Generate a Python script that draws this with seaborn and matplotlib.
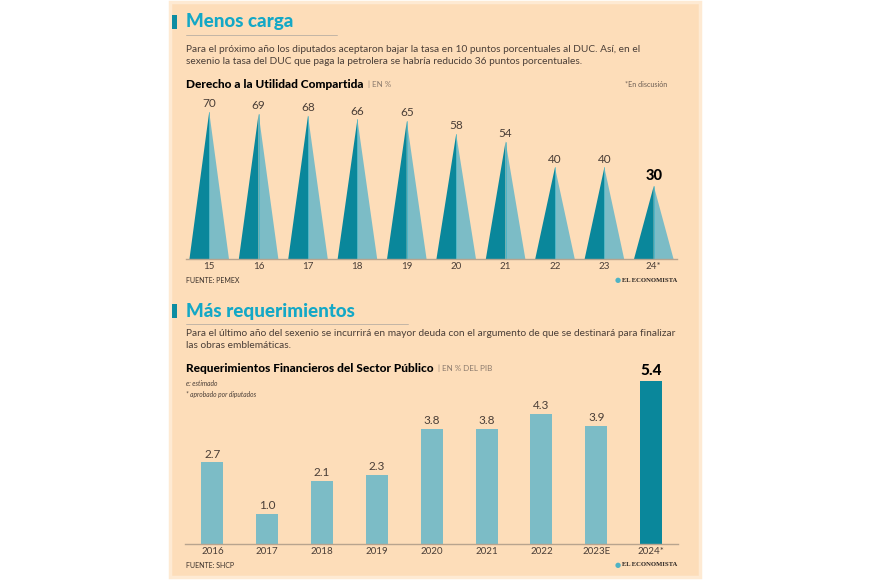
import pandas as pd
import matplotlib
matplotlib.use('Agg')
import matplotlib.pyplot as plt
import seaborn as sns
from matplotlib.patches import Rectangle
from matplotlib.lines import Line2D
from matplotlib.text import Annotation

# Derecho a la Utilidad Compartida (%)
duc_years = ['15', '16', '17', '18', '19', '20', '21', '22', '23', '24*']
duc_rates = [70, 69, 68, 66, 65, 58, 54, 40, 40, 30]

# Requerimientos Financieros del Sector Publico (% del PIB)
rfsp_years = ['2016', '2017', '2018', '2019', '2020', '2021', '2022', '2023E', '2024*']
rfsp_pib = [2.7, 1.0, 2.1, 2.3, 3.8, 3.8, 4.3, 3.9, 5.4]

PEACH = '#FDDDB9'
PEACH_EDGE = '#FEEAD3'
DARK_TEAL = '#0A879B'
LIGHT_TEAL = '#7CBCC6'
CYAN = '#14A8C6'
TEXT = '#4A3E37'
RULE = '#B8A48E'

sns.set_theme(style='white')
plt.rcParams['font.family'] = ['Lato', 'DejaVu Sans']

W, H = 870, 580
fig = plt.figure(figsize=(W / 100, H / 100), dpi=100)
fig.patch.set_facecolor('white')


def fx(x):
    return x / W


def fy(y):
    return 1 - y / H


def ftext(x, y, s, **kw):
    kw.setdefault('color', TEXT)
    kw.setdefault('va', 'center')
    return fig.text(fx(x), fy(y), s, **kw)


def after(anchor, s, side=1, gap=3, **kw):
    # text glued to the right (side=1) or left (side=0) of another text
    kw.setdefault('va', 'center')
    kw.setdefault('ha', 'left' if side else 'right')
    a = Annotation(s, xy=(side, 0.5), xycoords=anchor,
                   xytext=(gap if side else -gap, 0), textcoords='offset points',
                   annotation_clip=False, **kw)
    fig.add_artist(a)
    return a


def header(y, title, rule_end):
    fig.add_artist(Rectangle((fx(172), fy(y + 7)), 5 / W, 14 / H,
                             facecolor='#0D8DA2', lw=0))
    ftext(186, y, title, color=CYAN, fontsize=13.5, fontweight='black')
    fig.add_artist(Line2D([fx(186), fx(rule_end)], [fy(y + 13), fy(y + 13)],
                          color='#B9AFA3', lw=0.6))


def subtitle(y, bold, unit):
    t = ftext(186, y, bold, color='black', fontsize=8.6, fontweight='black')
    after(t, '| ' + unit, fontsize=5.8, color='#8C7B6E')


def footer(y, source):
    ftext(186, y, source, fontsize=5, color='#3A302A')
    logo = ftext(677, y, 'EL ECONOMISTA', ha='right', fontsize=4.8,
                 family=['Liberation Serif'], fontweight='bold', color='#2B2522')
    after(logo, '\u25CF', side=0, gap=1, fontsize=5, color='#4FB3C4',
          family=['DejaVu Sans'])


# panel background
fig.add_artist(Rectangle((fx(170), fy(577)), fx(700) - fx(170), fy(2) - fy(577),
                         facecolor=PEACH, edgecolor=PEACH_EDGE, lw=2.5, zorder=-5))

# ---- Menos carga ----
header(22, 'Menos carga', 337)
ftext(186, 49, 'Para el próximo año los diputados aceptaron bajar la tasa en 10 puntos '
      'porcentuales al DUC. Así, en el', fontsize=7.3)
ftext(186, 62, 'sexenio la tasa del DUC que paga la petrolera se habría reducido 36 '
      'puntos porcentuales.', fontsize=7.3)
subtitle(84, 'Derecho a la Utilidad Compartida', 'EN %')
ftext(667, 84, '*En discusión', ha='right', fontsize=5.2, color='#6E5F55')

ax1 = fig.add_axes([fx(186), fy(259), (677 - 186) / W, (259 - 100) / H])
ax1.set_facecolor('none')
BASE = -9.5
for i, v in enumerate(duc_rates):
    ax1.fill([i - 0.4, i, i], [BASE, v, BASE], color=DARK_TEAL, lw=0)
    ax1.fill([i, i + 0.4, i], [BASE, BASE, v], color=LIGHT_TEAL, lw=0)
    ax1.plot([i, i], [BASE, v], color='#3DB3C6', lw=0.5)
    last = i == len(duc_rates) - 1
    ax1.annotate(str(v), (i, v), xytext=(0, 2), textcoords='offset points',
                 ha='center', va='bottom',
                 fontsize=10.5 if last else 8.5,
                 fontweight='black' if last else 'normal',
                 color='black' if last else TEXT)
ax1.set_xlim(-0.47, 9.47)
ax1.set_ylim(BASE, BASE + 159 / 1.85)
ax1.set_xticks(range(len(duc_years)), duc_years)
ax1.set_yticks([])
ax1.tick_params(axis='x', length=0, pad=2.5, labelsize=7, labelcolor=TEXT)
for s in ['left', 'right', 'top']:
    ax1.spines[s].set_visible(False)
ax1.spines['bottom'].set_color(RULE)
ax1.spines['bottom'].set_linewidth(1)
footer(280, 'FUENTE: PEMEX')

# ---- Más requerimientos ----
header(311, 'Más requerimientos', 408)
ftext(186, 333, 'Para el último año del sexenio se incurrirá en mayor deuda con el '
      'argumento de que se destinará para finalizar', fontsize=7.3)
ftext(186, 346, 'las obras emblemáticas.', fontsize=7.3)
subtitle(368, 'Requerimientos Financieros del Sector Público', 'EN % DEL PIB')
ftext(186, 384, 'e: estimado', fontsize=4.8, style='italic')
ftext(186, 395, '* aprobado por diputados', fontsize=4.8, style='italic')

ax2 = fig.add_axes([fx(185), fy(544), (678 - 185) / W, (544 - 370) / H])
ax2.set_facecolor('none')
df = pd.DataFrame({'anio': rfsp_years, 'rfsp': rfsp_pib})
bar_colors = [LIGHT_TEAL] * (len(rfsp_years) - 1) + [DARK_TEAL]
sns.barplot(data=df, x='anio', y='rfsp', hue='anio', palette=bar_colors,
            legend=False, width=0.4, saturation=1, linewidth=0, ax=ax2)
for i, v in enumerate(rfsp_pib):
    last = i == len(rfsp_pib) - 1
    ax2.annotate(f'{v:.1f}', (i, v), xytext=(0, 2), textcoords='offset points',
                 ha='center', va='bottom',
                 fontsize=11 if last else 8.5,
                 fontweight='black' if last else 'normal',
                 color='black' if last else TEXT)
ax2.set_xlim(-0.5, 8.49)
ax2.set_ylim(0, 174 / 30.2)
ax2.set_xlabel('')
ax2.set_ylabel('')
ax2.set_yticks([])
ax2.tick_params(axis='x', length=0, pad=2, labelsize=7, labelcolor=TEXT)
for s in ['left', 'right', 'top']:
    ax2.spines[s].set_visible(False)
ax2.spines['bottom'].set_color(RULE)
ax2.spines['bottom'].set_linewidth(1)
footer(565, 'FUENTE: SHCP')

fig.savefig('out.png', dpi=100)
